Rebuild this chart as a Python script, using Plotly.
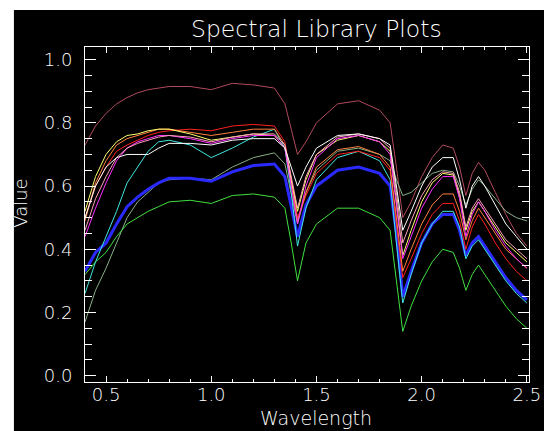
import plotly.graph_objects as go

wavelength = [0.40, 0.45, 0.50, 0.55, 0.60, 0.65, 0.70, 0.75, 0.80, 0.90, 1.00, 1.10, 1.20, 1.30,
              1.35, 1.38, 1.41, 1.45, 1.50, 1.60, 1.70, 1.80, 1.85, 1.88, 1.91, 1.95, 2.00, 2.05,
              2.10, 2.15, 2.18, 2.21, 2.24, 2.27, 2.30, 2.35, 2.40, 2.45, 2.50]

maroon = [0.73, 0.79, 0.83, 0.86, 0.88, 0.895, 0.905, 0.91, 0.915, 0.915, 0.905, 0.925, 0.92, 0.91,
          0.86, 0.78, 0.70, 0.74, 0.80, 0.86, 0.87, 0.84, 0.80, 0.66, 0.50, 0.55, 0.63, 0.69,
          0.73, 0.72, 0.66, 0.57, 0.64, 0.675, 0.65, 0.58, 0.51, 0.45, 0.41]
olive = [0.17, 0.27, 0.34, 0.42, 0.50, 0.55, 0.58, 0.61, 0.62, 0.625, 0.62, 0.66, 0.69, 0.705,
         0.67, 0.58, 0.48, 0.58, 0.65, 0.71, 0.72, 0.70, 0.68, 0.62, 0.57, 0.58, 0.61, 0.64,
         0.65, 0.645, 0.60, 0.54, 0.59, 0.62, 0.60, 0.56, 0.52, 0.50, 0.49]
blue = [0.33, 0.39, 0.42, 0.48, 0.535, 0.565, 0.59, 0.61, 0.625, 0.625, 0.615, 0.645, 0.665, 0.67,
        0.63, 0.53, 0.44, 0.54, 0.60, 0.65, 0.66, 0.64, 0.60, 0.45, 0.25, 0.33, 0.42, 0.48,
        0.51, 0.51, 0.46, 0.38, 0.42, 0.44, 0.41, 0.36, 0.31, 0.27, 0.24]
green = [0.32, 0.36, 0.39, 0.44, 0.48, 0.50, 0.52, 0.535, 0.55, 0.555, 0.545, 0.57, 0.575, 0.565,
         0.53, 0.42, 0.30, 0.42, 0.48, 0.53, 0.53, 0.50, 0.46, 0.30, 0.14, 0.22, 0.30, 0.36,
         0.40, 0.39, 0.34, 0.27, 0.32, 0.35, 0.32, 0.27, 0.22, 0.18, 0.15]
cyan = [0.26, 0.36, 0.44, 0.52, 0.61, 0.66, 0.71, 0.74, 0.745, 0.73, 0.69, 0.72, 0.755, 0.78,
        0.72, 0.58, 0.41, 0.53, 0.62, 0.69, 0.71, 0.68, 0.62, 0.42, 0.23, 0.32, 0.42, 0.48,
        0.52, 0.52, 0.47, 0.37, 0.41, 0.43, 0.40, 0.35, 0.30, 0.26, 0.23]
red = [0.50, 0.60, 0.66, 0.71, 0.73, 0.745, 0.76, 0.77, 0.775, 0.78, 0.775, 0.79, 0.795, 0.79,
       0.74, 0.62, 0.50, 0.57, 0.64, 0.70, 0.71, 0.69, 0.65, 0.48, 0.31, 0.37, 0.45, 0.51,
       0.545, 0.545, 0.49, 0.40, 0.47, 0.51, 0.48, 0.42, 0.37, 0.33, 0.30]
orange = [0.49, 0.61, 0.68, 0.73, 0.75, 0.76, 0.77, 0.78, 0.78, 0.77, 0.76, 0.77, 0.78, 0.78,
          0.73, 0.61, 0.49, 0.58, 0.66, 0.715, 0.725, 0.70, 0.66, 0.50, 0.33, 0.40, 0.48, 0.54,
          0.575, 0.575, 0.52, 0.43, 0.49, 0.53, 0.50, 0.45, 0.40, 0.37, 0.34]
yellow = [0.52, 0.63, 0.70, 0.74, 0.76, 0.765, 0.775, 0.78, 0.78, 0.765, 0.745, 0.755, 0.765, 0.76,
          0.72, 0.62, 0.52, 0.62, 0.70, 0.745, 0.76, 0.74, 0.71, 0.55, 0.38, 0.46, 0.55, 0.61,
          0.64, 0.635, 0.57, 0.46, 0.52, 0.55, 0.52, 0.47, 0.42, 0.39, 0.36]
magenta = [0.44, 0.53, 0.61, 0.68, 0.72, 0.74, 0.75, 0.76, 0.76, 0.75, 0.735, 0.75, 0.76, 0.76,
           0.72, 0.60, 0.48, 0.60, 0.69, 0.75, 0.76, 0.74, 0.70, 0.54, 0.37, 0.44, 0.53, 0.59,
           0.63, 0.63, 0.56, 0.44, 0.51, 0.55, 0.52, 0.46, 0.41, 0.37, 0.34]
pink = [0.46, 0.56, 0.63, 0.69, 0.72, 0.735, 0.745, 0.755, 0.76, 0.755, 0.74, 0.755, 0.765, 0.765,
        0.73, 0.63, 0.53, 0.63, 0.70, 0.755, 0.765, 0.75, 0.72, 0.58, 0.42, 0.49, 0.57, 0.62,
        0.645, 0.64, 0.58, 0.47, 0.53, 0.56, 0.53, 0.48, 0.43, 0.40, 0.37]
white = [0.50, 0.60, 0.66, 0.69, 0.70, 0.70, 0.70, 0.72, 0.735, 0.735, 0.73, 0.745, 0.75, 0.75,
         0.72, 0.66, 0.60, 0.66, 0.72, 0.76, 0.765, 0.75, 0.73, 0.60, 0.46, 0.52, 0.60, 0.66,
         0.69, 0.69, 0.62, 0.53, 0.60, 0.63, 0.60, 0.54, 0.48, 0.44, 0.40]

series = [
    ("maroon", maroon, "#b04a5c", 1),
    ("olive", olive, "#88b088", 1),
    ("blue", blue, "#2a2aff", 3),
    ("green", green, "#40e040", 1),
    ("cyan", cyan, "#40e8e0", 1),
    ("red", red, "#ff2020", 1),
    ("orange", orange, "#ff8040", 1),
    ("yellow", yellow, "#ffff70", 1),
    ("magenta", magenta, "#ff30ff", 1),
    ("pink", pink, "#ffa0b8", 1),
    ("white", white, "#ffffff", 1),
]

x_ticks = [0.5, 1.0, 1.5, 2.0, 2.5]
x_ticklabels = ["0.5", "1.0", "1.5", "2.0", "2.5"]
y_ticks = [0.0, 0.2, 0.4, 0.6, 0.8, 1.0]
y_ticklabels = ["0.0", "0.2", "0.4", "0.6", "0.8", "1.0"]

FONT = "DejaVu Sans"

fig = go.Figure()
for name, vals, color, w in series:
    fig.add_trace(go.Scatter(x=wavelength, y=vals, mode="lines", name=name,
                             line=dict(color=color, width=w), showlegend=False,
                             hoverinfo="skip"))

# page body has an 8px margin, so the figure is laid out 8px smaller/shifted
OFF = 8
W, H = 552 - OFF, 431 - OFF
L, T = 85 - OFF, 47 - OFF
R = W - (541 - OFF)
B = H - (382 - OFF)
pw, ph = W - L - R, H - T - B


def px_x(p):
    return (p - OFF - L) / pw


def px_y(p):
    return (H - B - (p - OFF)) / ph


white_strips = [
    (-20, 12, -20, 450),     # left strip (page px: x0, x1, y0, y1)
    (-20, 560, -20, 10),     # top strip
]
for x0, x1, y0, y1 in white_strips:
    fig.add_shape(type="rect", xref="paper", yref="paper", layer="above",
                  x0=px_x(x0), x1=px_x(x1), y0=px_y(y1), y1=px_y(y0),
                  fillcolor="white", line=dict(width=0))

axis_common = dict(showgrid=False, zeroline=False, showline=True, linecolor="white",
                   linewidth=1, mirror="ticks", ticks="inside", tickcolor="white",
                   ticklabeloverflow="allow",
                   tickfont=dict(family=FONT, size=18, color="white", weight=300))

fig.update_xaxes(range=[0.4, 2.51], tickvals=x_ticks, ticktext=x_ticklabels, ticklen=6,
                 minor=dict(dtick=0.1, tick0=0.0, ticklen=3, ticks="inside", tickcolor="white"),
                 ticklabelstandoff=-4, **axis_common)
fig.update_yaxes(range=[-0.02, 1.04], tickvals=y_ticks, ticktext=y_ticklabels, ticklen=11,
                 minor=dict(dtick=0.05, tick0=0.0, ticklen=7, ticks="inside", tickcolor="white"),
                 ticklabelstandoff=8, **axis_common)

fig.add_annotation(text="Spectral Library Plots", xref="paper", yref="paper",
                   x=px_x(323), y=px_y(29), showarrow=False, xanchor="center", yanchor="middle",
                   font=dict(family=FONT, size=23.5, color="white", weight=300))
fig.add_annotation(text="Wavelength", xref="paper", yref="paper",
                   x=px_x(322), y=px_y(418), showarrow=False, xanchor="center", yanchor="middle",
                   font=dict(family=FONT, size=19, color="white", weight=300))
fig.add_annotation(text="Value", xref="paper", yref="paper", textangle=-90,
                   x=px_x(18), y=px_y(203), showarrow=False, xanchor="center", yanchor="middle",
                   font=dict(family=FONT, size=18, color="white", weight=300))

fig.update_layout(width=W, height=H, margin=dict(l=L, r=R, t=T, b=B, pad=0),
                  paper_bgcolor="black", plot_bgcolor="black")

fig.write_html("out.html")
